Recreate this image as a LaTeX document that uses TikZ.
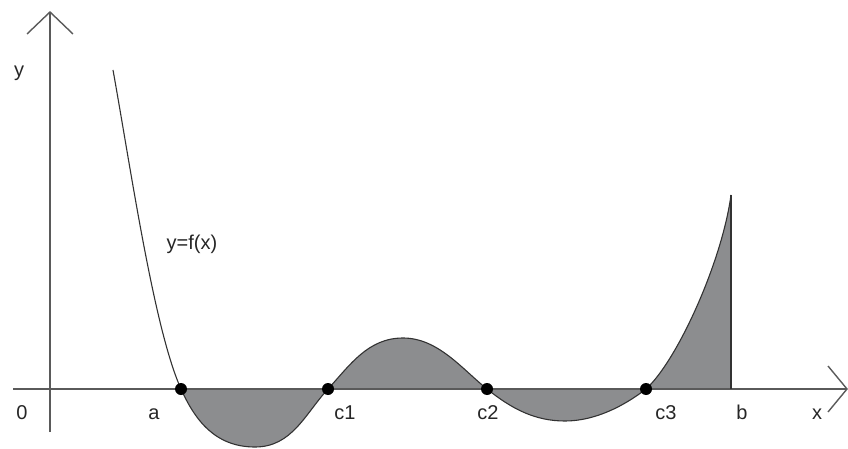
\documentclass[tikz,border=0pt]{standalone}
\usepackage{fontspec}
\setmainfont{Liberation Sans}
\definecolor{axisgray}{RGB}{90,90,90}
\definecolor{curvegray}{RGB}{50,50,50}
\definecolor{fillgray}{RGB}{140,141,143}
\tikzset{
  axisline/.style={draw=axisgray, line width=1.4pt},
  curveline/.style={draw=curvegray, line width=1.1pt},
  rootdot/.style={circle, fill=black, inner sep=0pt, minimum size=12pt},
  lbl/.style={anchor=base, inner sep=0pt, font=\fontsize{20}{23}\selectfont, text=black!85}
}
\begin{document}
\begin{tikzpicture}[x=1pt,y=-1pt]
\useasboundingbox (0,0) rectangle (848,449);
% key points
\coordinate (top) at (113,70);
\coordinate (a) at (181,389);
\coordinate (m1) at (255,447);
\coordinate (c1) at (328,389);
\coordinate (p1) at (403,338);
\coordinate (c2) at (487,389);
\coordinate (m2) at (565,421);
\coordinate (c3) at (646,389);
\coordinate (bt) at (731,195);
\coordinate (b) at (731,389);
% shaded area
\fill[fillgray] (a) .. controls (195,420) and (215,447) .. (m1)
  .. controls (292,447) and (305,414) .. (c1)
  .. controls (350,365) and (368,338) .. (p1)
  .. controls (438,338) and (462,369) .. (c2)
  .. controls (512,409) and (535,421) .. (m2)
  .. controls (595,421) and (624,406) .. (c3)
  .. controls (677,361) and (722,262) .. (bt)
  -- (b) -- cycle;
% axes
\coordinate (ytip) at (50,12);
\coordinate (ybot) at (50,432);
\coordinate (xleft) at (13,389);
\coordinate (xtip) at (847,389);
\draw[axisline] (ybot) -- (ytip);
\draw[axisline] (27,34) -- (ytip) -- (73,34);
\draw[axisline] (xleft) -- (xtip);
\draw[axisline] (828,366) -- (xtip) -- (828,412);
% curve
\draw[curveline] (top) .. controls (131,170) and (154,329) .. (a)
  .. controls (195,420) and (215,447) .. (m1)
  .. controls (292,447) and (305,414) .. (c1)
  .. controls (350,365) and (368,338) .. (p1)
  .. controls (438,338) and (462,369) .. (c2)
  .. controls (512,409) and (535,421) .. (m2)
  .. controls (595,421) and (624,406) .. (c3)
  .. controls (677,361) and (722,262) .. (bt);
\draw[curveline] (bt) -- (b);
% dots
\node[rootdot] (da) at (a) {};
\node[rootdot] (dc1) at (c1) {};
\node[rootdot] (dc2) at (c2) {};
\node[rootdot] (dc3) at (c3) {};
% labels
\node[lbl] (ly) at (19,77) {y};
\node[lbl] (l0) at (22,419) {0};
\node[lbl] (la) at (154,419) {a};
\node[lbl] (lc1) at (345,419) {c1};
\node[lbl] (lc2) at (488,419) {c2};
\node[lbl] (lc3) at (666,419) {c3};
\node[lbl] (lb) at (742,419) {b};
\node[lbl] (lx) at (817,419) {x};
\node[lbl] (lf) at (192,249) {y=f(x)};
\end{tikzpicture}
\end{document}
